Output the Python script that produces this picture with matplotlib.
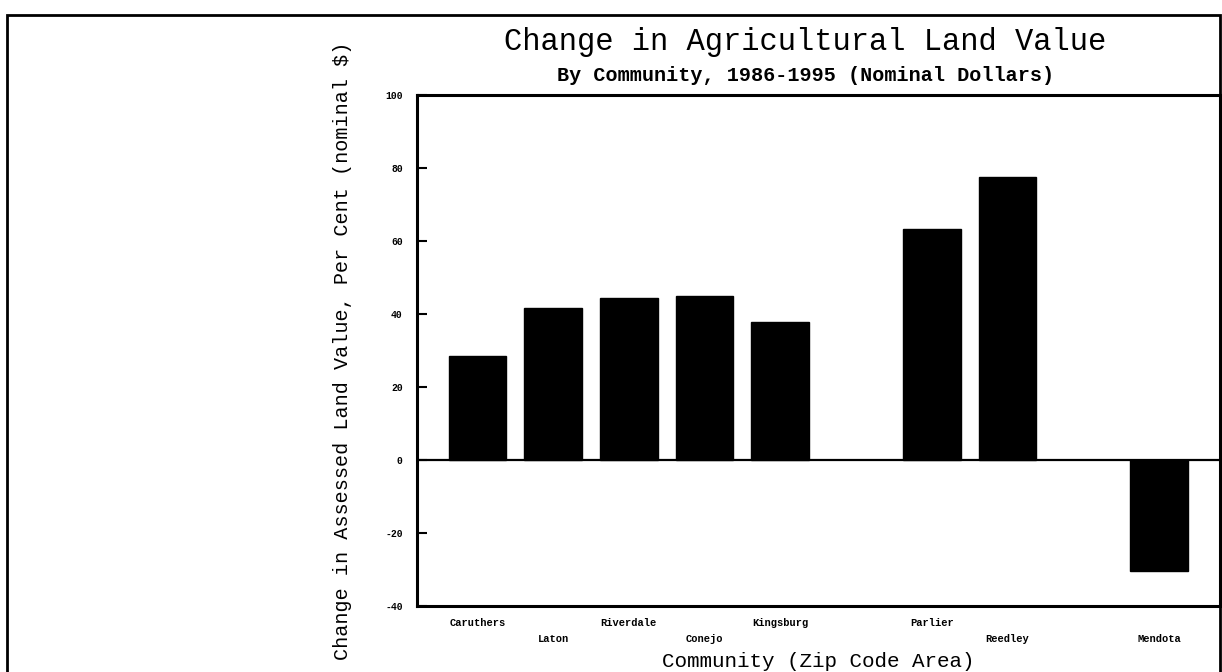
import matplotlib.pyplot as plt
import numpy as np
from matplotlib.patches import Rectangle

# communities in chart order; blank slots are gaps in the original
communities = ["Caruthers", "Laton", "Riverdale", "Conejo", "Kingsburg", "",
               "Parlier", "Reedley", "", "Mendota"]
change_pct = [28.5, 41.6, 44.4, 44.8, 37.7, np.nan, 63.2, 77.4, np.nan, -30.5]
y_ticks = [-40, -20, 0, 20, 40, 60, 80, 100]

plt.rcParams["font.family"] = ["Liberation Mono", "DejaVu Sans Mono"]

fig = plt.figure(figsize=(12.22, 6.72), dpi=100)
ax = fig.add_axes([0.341, 0.098, 0.657, 0.761])

x = np.arange(len(communities))
ax.bar(x, change_pct, width=0.76, color="black", edgecolor="black")
ax.axhline(0, color="black", linewidth=1.6)

ax.set_xlim(-0.8, 9.8)
ax.set_ylim(-40, 100)
ax.set_yticks(y_ticks)
ax.set_yticklabels([str(v) for v in y_ticks], fontsize=7, fontweight="bold")
ax.tick_params(axis="y", direction="in", length=7, width=1.5, pad=10)

ax.set_xticks(x)
ax.set_xticklabels(communities, fontsize=7.5, fontweight="bold")
ax.tick_params(axis="x", length=0)
for i, lab in enumerate(ax.get_xticklabels()):
    # staggered labels, as in the original
    lab.set_y(-0.014 if i % 2 == 0 else -0.044)

for s in ax.spines.values():
    s.set_linewidth(2.2)

ax.set_xlabel("Community (Zip Code Area)", fontsize=15, va="center")
ax.xaxis.set_label_coords(0.5, -0.108)
ax.set_ylabel("Change in Assessed Land Value, Per Cent (nominal $)",
              fontsize=14.5, labelpad=24)

fig.text(0.659, 0.937, "Change in Agricultural Land Value",
         ha="center", va="center", fontsize=22)
fig.text(0.659, 0.888, "By Community, 1986-1995 (Nominal Dollars)",
         ha="center", va="center", fontsize=14.5, fontweight="bold")

# outer border of the page
fig.patches.append(Rectangle((0.006, -0.1), 0.992, 1.078, transform=fig.transFigure,
                             fill=False, edgecolor="black", linewidth=2))

fig.savefig("out.png", dpi=100)
